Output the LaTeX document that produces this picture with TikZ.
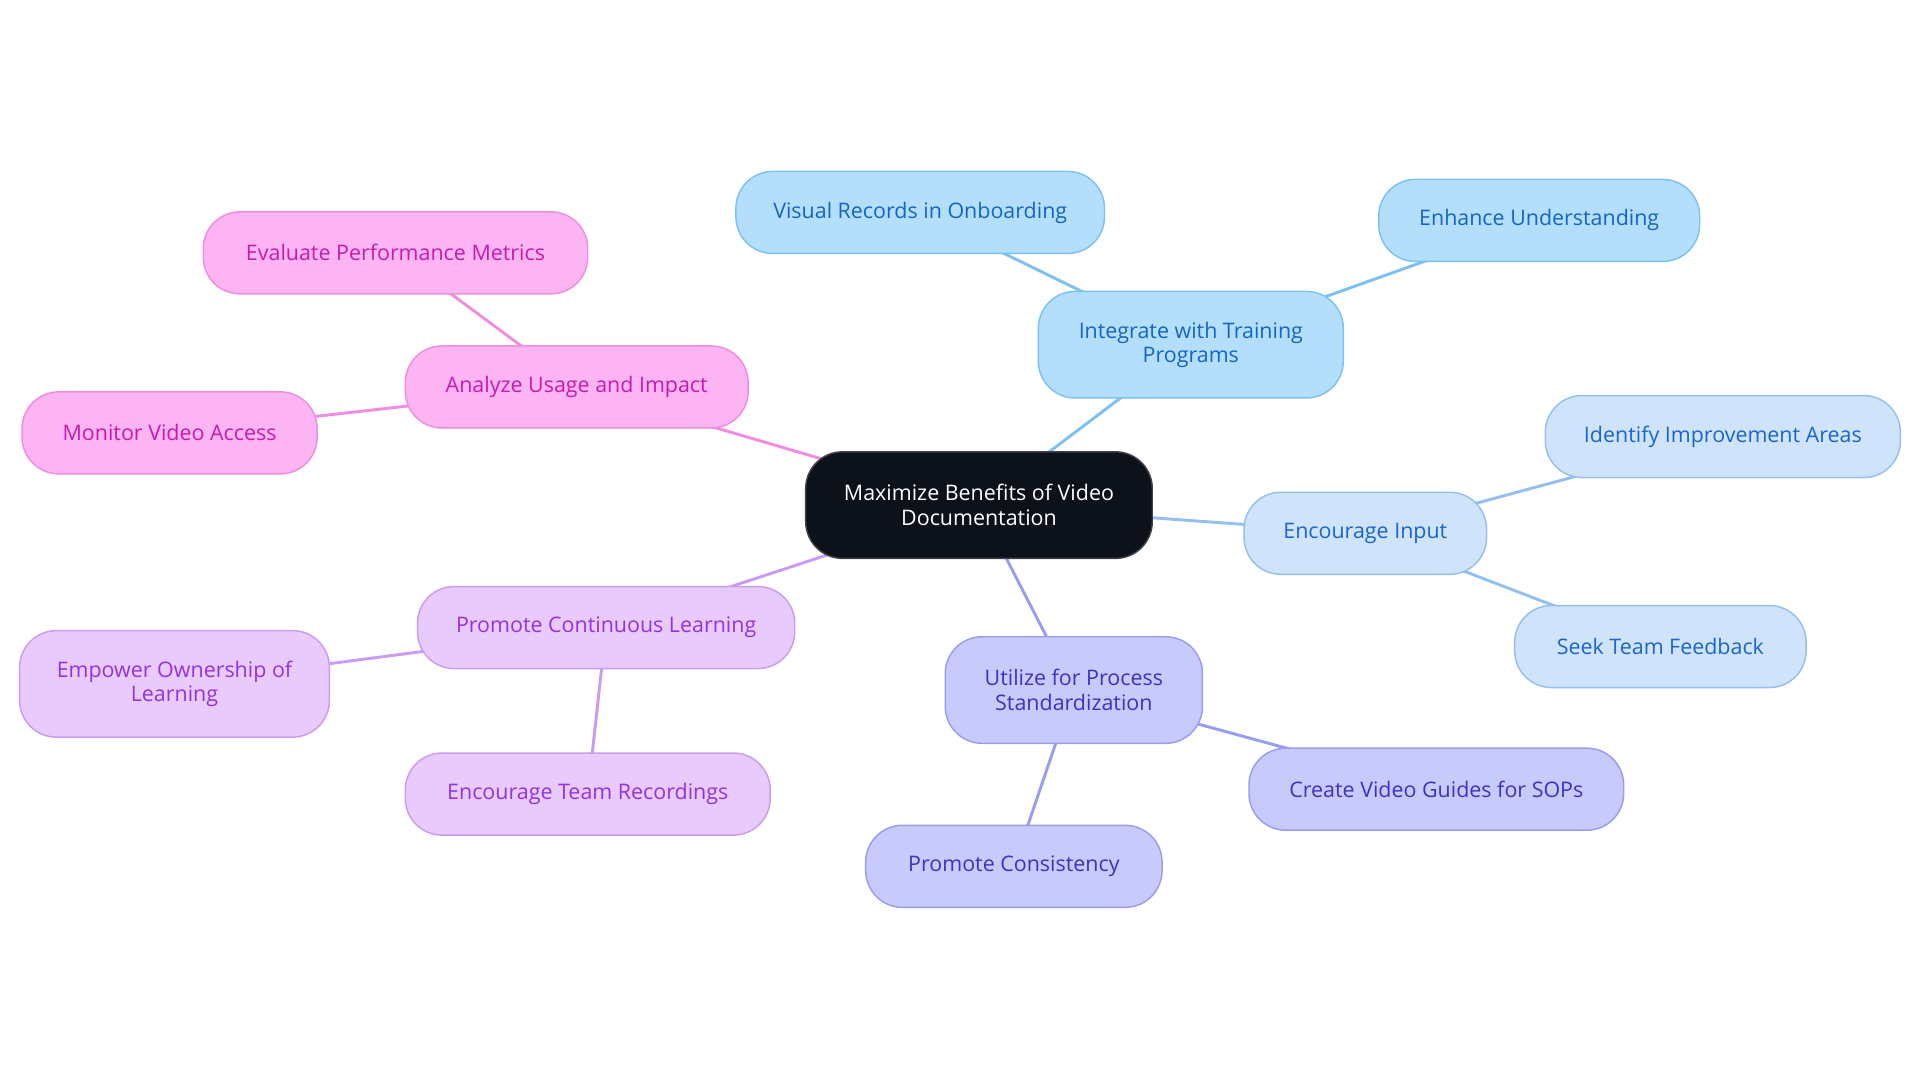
\documentclass[tikz,border=0pt]{standalone}
\usepackage{fontspec}
\setmainfont{Open Sans}
\usetikzlibrary{backgrounds}
\definecolor{hubfill}{HTML}{0C111A}
\definecolor{skyfill}{HTML}{B3DFFD}
\definecolor{skyline}{HTML}{7DC1F2}
\definecolor{skytext}{HTML}{1466C2}
\definecolor{icefill}{HTML}{CFE3FB}
\definecolor{iceline}{HTML}{95BFEF}
\definecolor{icetext}{HTML}{1A66CC}
\definecolor{perifill}{HTML}{C8CAFC}
\definecolor{periline}{HTML}{9A9CF0}
\definecolor{peritext}{HTML}{3A33C4}
\definecolor{lavfill}{HTML}{E8CBFC}
\definecolor{lavline}{HTML}{CB9BF2}
\definecolor{lavtext}{HTML}{9333E0}
\definecolor{pinkfill}{HTML}{FCB4F2}
\definecolor{pinkline}{HTML}{F08DE0}
\definecolor{pinktext}{HTML}{C71AAE}
\begin{document}
\begin{tikzpicture}[x=1pt, y=-1pt,
    every node/.style={font=\fontsize{17.5}{20}\selectfont, align=center, inner sep=0pt},
    bubble/.style={rounded corners=30pt, line width=1.2pt, minimum height=67pt},
    hub/.style={bubble, fill=hubfill, draw=hubfill!80!white, text=white, minimum height=87pt},
    sky/.style={bubble, fill=skyfill, draw=skyline, text=skytext},
    ice/.style={bubble, fill=icefill, draw=iceline, text=icetext},
    peri/.style={bubble, fill=perifill, draw=periline, text=peritext},
    lav/.style={bubble, fill=lavfill, draw=lavline, text=lavtext},
    pink/.style={bubble, fill=pinkfill, draw=pinkline, text=pinktext},
    link/.style={line width=2.4pt}]
    \useasboundingbox (0,0) rectangle (1568,884);
    % central node
    \node[hub, minimum width=283pt] (hub) at (799.5,412.5) {Maximize Benefits of Video\\Documentation};
    % training branch
    \node[sky, minimum width=249pt, minimum height=87pt] (train) at (972.5,281.5) {Integrate with Training\\Programs};
    \node[sky, minimum width=301pt] (visual) at (751.5,173.5) {Visual Records in Onboarding};
    \node[sky, minimum width=262pt] (enhance) at (1257,180) {Enhance Understanding};
    % input branch
    \node[ice, minimum width=198pt] (input) at (1115,435.5) {Encourage Input};
    \node[ice, minimum width=290pt] (improve) at (1407,356.5) {Identify Improvement Areas};
    \node[ice, minimum width=238pt] (feedback) at (1356,528) {Seek Team Feedback};
    % standardization branch
    \node[peri, minimum width=210pt, minimum height=87pt] (standard) at (877,563.5) {Utilize for Process\\Standardization};
    \node[peri, minimum width=306pt] (guides) at (1173,644.5) {Create Video Guides for SOPs};
    \node[peri, minimum width=242pt] (consist) at (828,707.5) {Promote Consistency};
    % learning branch
    \node[lav, minimum width=308pt] (learn) at (495,512.5) {Promote Continuous Learning};
    \node[lav, minimum width=253pt, minimum height=87pt] (owner) at (142.5,558.5) {Empower Ownership of\\Learning};
    \node[lav, minimum width=298pt] (record) at (480,648.5) {Encourage Team Recordings};
    % usage branch
    \node[pink, minimum width=280pt] (usage) at (471,316) {Analyze Usage and Impact};
    \node[pink, minimum width=314pt] (metrics) at (323,206.5) {Evaluate Performance Metrics};
    \node[pink, minimum width=241pt] (access) at (138.5,353.5) {Monitor Video Access};
    % connectors
    \begin{scope}[on background layer]
        \draw[link, skyline] (hub.center) -- (train.center);
        \draw[link, skyline] (train.center) -- (visual.center);
        \draw[link, skyline] (train.center) -- (enhance.center);
        \draw[link, iceline] (hub.center) -- (input.center);
        \draw[link, iceline] (input.center) -- (improve.center);
        \draw[link, iceline] (input.center) -- (feedback.center);
        \draw[link, periline] (hub.center) -- (standard.center);
        \draw[link, periline] (standard.center) -- (guides.center);
        \draw[link, periline] (standard.center) -- (consist.center);
        \draw[link, lavline] (hub.center) -- (learn.center);
        \draw[link, lavline] (learn.center) -- (owner.center);
        \draw[link, lavline] (learn.center) -- (record.center);
        \draw[link, pinkline] (hub.center) -- (usage.center);
        \draw[link, pinkline] (usage.center) -- (metrics.center);
        \draw[link, pinkline] (usage.center) -- (access.center);
    \end{scope}
\end{tikzpicture}
\end{document}
